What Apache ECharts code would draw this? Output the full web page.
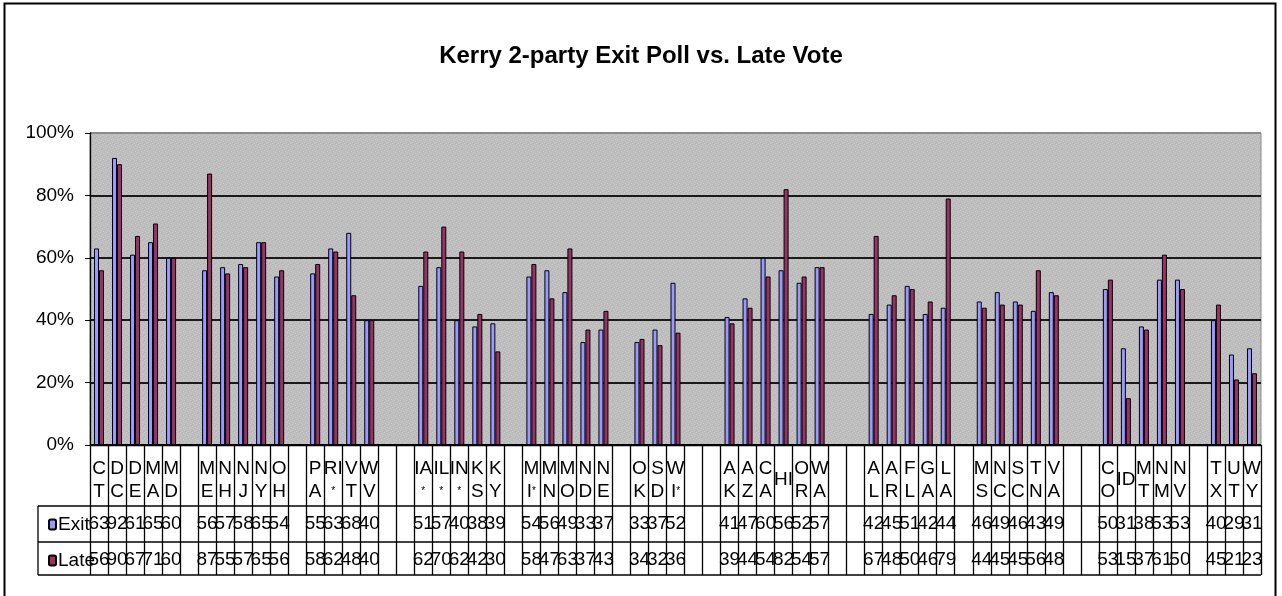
<!DOCTYPE html>
<html><head><meta charset="utf-8">
<script src="https://cdn.jsdelivr.net/npm/echarts@6/dist/echarts.min.js"></script>
<style>html,body{margin:0;padding:0;background:#fff}#c{width:1282px;height:596px}</style>
</head><body><div id="c"></div>
<script>
const categories = ['CT','DC','DE','MA','MD','_1','ME','NH','NJ','NY','OH','_2','PA','RI*','VT','WV','_3','_4','IA*','IL*','IN*','KS','KY','_5','MI*','MN','MO','ND','NE','_6','OK','SD','WI*','_7','_8','AK','AZ','CA','HI','OR','WA','_9','_10','AL','AR','FL','GA','LA','_11','MS','NC','SC','TN','VA','_12','_13','CO','ID','MT','NM','NV','_14','TX','UT','WY'];
const tickLabels = ['C\nT','D\nC','D\nE','M\nA','M\nD','','M\nE','N\nH','N\nJ','N\nY','O\nH','','P\nA','RI\n*','V\nT','W\nV','','','IA\n*','IL\n*','IN\n*','K\nS','K\nY','','M\nI*','M\nN','M\nO','N\nD','N\nE','','O\nK','S\nD','W\nI*','','','A\nK','A\nZ','C\nA','HI','O\nR','W\nA','','','A\nL','A\nR','F\nL','G\nA','L\nA','','M\nS','N\nC','S\nC','T\nN','V\nA','','','C\nO','ID','M\nT','N\nM','N\nV','','T\nX','U\nT','W\nY'];
const exitPoll = [63,92,61,65,60,null,56,57,58,65,54,null,55,63,68,40,null,null,51,57,40,38,39,null,54,56,49,33,37,null,33,37,52,null,null,41,47,60,56,52,57,null,null,42,45,51,42,44,null,46,49,46,43,49,null,null,50,31,38,53,53,null,40,29,31];
const lateVote = [56,90,67,71,60,null,87,55,57,65,56,null,58,62,48,40,null,null,62,70,62,42,30,null,58,47,63,37,43,null,34,32,36,null,null,39,44,54,82,54,57,null,null,67,48,50,46,79,null,44,45,45,56,48,null,null,53,15,37,61,50,null,45,21,23];
const yTicks = [0,20,40,60,80,100];

const NARROW = '"Liberation Sans Narrow","Arial Narrow","Liberation Sans",Arial,sans-serif';
const SANS = '"Liberation Sans",Arial,sans-serif';

function catLabel(v, i) {
  const t = tickLabels[i];
  if (!t) return '';
  const parts = t.split('\n');
  return parts.map(p => p === '*' ? '{s|*}' : (p.endsWith('*') ? '{m|' + p.slice(0, -1) + '}{s|*}' : '{m|' + p + '}')).join('\n');
}

// speckled plot-area texture (fixed pattern)
const pat = document.createElement('canvas');
pat.width = 6; pat.height = 6;
(function () {
  const g = pat.getContext('2d');
  g.fillStyle = '#bdbdbd'; g.fillRect(0, 0, 6, 6);
  g.fillStyle = '#cacaca';
  [[0,0],[3,1],[1,3],[4,4],[5,2],[2,5]].forEach(p => g.fillRect(p[0], p[1], 1, 1));
  g.fillStyle = '#b5b5b5';
  [[2,0],[5,5],[0,4]].forEach(p => g.fillRect(p[0], p[1], 1, 1));
})();

const chart = echarts.init(document.getElementById('c'), null, {renderer: 'canvas'});
const tableLine = {stroke: '#000', lineWidth: 1.3};
chart.setOption({
  animation: false,
  backgroundColor: '#fff',
  title: {
    text: 'Kerry 2-party Exit Poll vs. Late Vote',
    left: 'center', top: 39,
    textStyle: {fontFamily: SANS, fontSize: 24, fontWeight: 'bold', color: '#000'}
  },
  legend: {
    orient: 'vertical', left: 43, top: 510,
    itemWidth: 7, itemHeight: 10, itemGap: 17,
    textStyle: {fontFamily: NARROW, fontSize: 19, lineHeight: 19, color: '#000', padding: [0,0,0,-3]},
    data: ['Exit', 'Late']
  },
  grid: {
    left: 90, right: 21, top: 133, bottom: 151,
    show: true, backgroundColor: {image: pat, repeat: 'repeat'}, borderColor: '#8a8a8a', borderWidth: 1
  },
  yAxis: {
    type: 'value', min: 0, max: 100, interval: 20,
    axisLine: {show: true, lineStyle: {color: '#000', width: 1.3}},
    axisTick: {show: true, length: 5, lineStyle: {color: '#000'}},
    axisLabel: {formatter: v => yTicks.includes(v) ? v + '%' : '', fontFamily: SANS, fontSize: 19, color: '#000', margin: 16},
    splitLine: {show: true, lineStyle: {color: ['#000','#1a1a1a','#1a1a1a','#1a1a1a','#1a1a1a','#8a8a8a'], width: 2}}
  },
  xAxis: [
    {
      type: 'category', data: categories, position: 'bottom',
      axisLine: {show: true, lineStyle: {color: '#000', width: 1.3}},
      axisTick: {show: true, interval: 0, length: 130, lineStyle: {color: '#000', width: 1.3}},
      axisLabel: {
        interval: 0, margin: 35, verticalAlign: 'middle', formatter: catLabel,
        rich: {
          m: {fontFamily: NARROW, fontSize: 19, lineHeight: 23, color: '#000'},
          s: {fontFamily: NARROW, fontSize: 10, lineHeight: 23, color: '#000'}
        }
      }
    },
    {
      type: 'category', data: categories, position: 'bottom', offset: 79,
      axisLine: {show: false}, axisTick: {show: false},
      axisLabel: {interval: 0, margin: 0, verticalAlign: 'middle', fontFamily: NARROW, fontSize: 19, color: '#000',
        formatter: (v, i) => exitPoll[i] == null ? '' : String(exitPoll[i])}
    },
    {
      type: 'category', data: categories, position: 'bottom', offset: 115,
      axisLine: {show: false}, axisTick: {show: false},
      axisLabel: {interval: 0, margin: 0, verticalAlign: 'middle', fontFamily: NARROW, fontSize: 19, color: '#000',
        formatter: (v, i) => lateVote[i] == null ? '' : String(lateVote[i])}
    }
  ],
  series: [
    {name: 'Exit', type: 'bar', xAxisIndex: 0, data: exitPoll, barWidth: 5, barGap: '0%',
     itemStyle: {color: '#9999ff', borderColor: '#000', borderWidth: 1}},
    {name: 'Late', type: 'bar', xAxisIndex: 0, data: lateVote, barWidth: 5, barGap: '0%',
     itemStyle: {color: '#993366', borderColor: '#000', borderWidth: 1}}
  ],
  graphic: [
    {type: 'rect', shape: {x: 4.5, y: 3.5, width: 1271, height: 620}, style: {fill: 'none', stroke: '#000', lineWidth: 2}, silent: true},
    {type: 'line', shape: {x1: 38, y1: 506, x2: 1261, y2: 506}, style: tableLine, silent: true},
    {type: 'line', shape: {x1: 38, y1: 542, x2: 1261, y2: 542}, style: tableLine, silent: true},
    {type: 'line', shape: {x1: 38, y1: 575, x2: 1261, y2: 575}, style: tableLine, silent: true},
    {type: 'line', shape: {x1: 38, y1: 506, x2: 38, y2: 575}, style: tableLine, silent: true}
  ]
});
</script></body></html>
